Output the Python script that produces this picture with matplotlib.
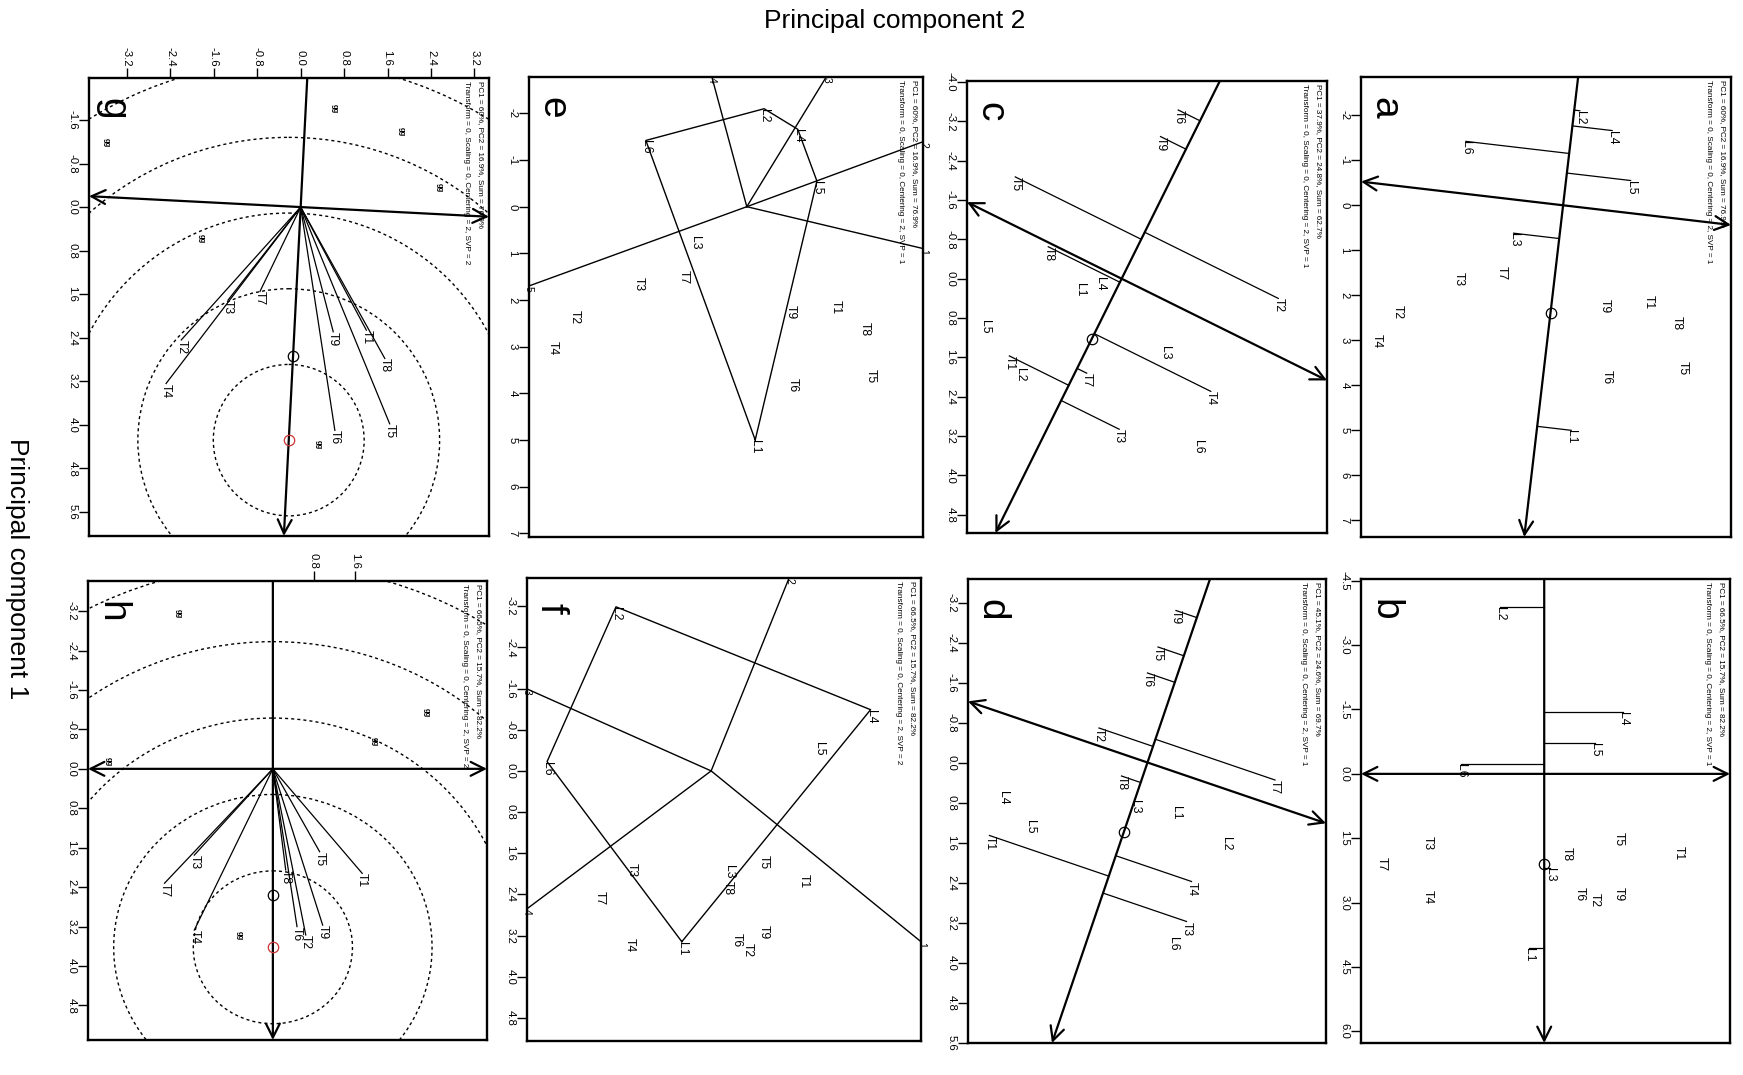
import numpy as np
import matplotlib
matplotlib.use("Agg")
import matplotlib.pyplot as plt
from matplotlib.patches import FancyArrowPatch, Circle, ArrowStyle

plt.rcParams['font.family'] = ['Liberation Sans', 'DejaVu Sans']

# ---------------- data ----------------
GEN = ["L1", "L2", "L3", "L4", "L5", "L6"]
ENV = ["T1", "T2", "T3", "T4", "T5", "T6", "T7", "T8", "T9"]

# panels a & e (PC1 = 60%, PC2 = 16.9%, SVP = 1)  -> values given as (PC2, PC1)
AE_GEN_PC2 = [0.18, 0.37, -1.10, 1.09, 1.50, -2.16]
AE_GEN_PC1 = [5.00, -2.10, 0.62, -1.66, -0.55, -1.42]
AE_ENV_PC2 = [1.90, -3.68, -2.31, -4.15, 2.65, 0.98, -1.36, 2.52, 0.93]
AE_ENV_PC1 = [2.16, 2.37, 1.65, 3.02, 3.62, 3.82, 1.51, 2.62, 2.25]
AE_AEC = [-0.28, 2.39]
E_HULL = ["L1", "L6", "L2", "L4", "L5"]
E_SECTOR = ["5", "4", "3", "2", "1"]

# panel b (PC1 = 66.5%, PC2 = 15.7%, SVP = 1)
B_GEN_PC2 = [-0.35, -1.04, 0.14, 1.84, 1.19, -1.95]
B_GEN_PC1 = [4.05, -3.88, 2.20, -1.43, -0.73, -0.23]
B_ENV_PC2 = [3.14, 1.17, -2.72, -2.72, 1.74, 0.84, -3.79, 0.53, 1.74]
B_ENV_PC1 = [1.85, 2.94, 1.62, 2.86, 1.53, 2.79, 2.09, 1.87, 2.79]
B_AEC = [0.0, 2.09]

# panel c (PC1 = 37.9%, PC2 = 24.8%)
C_ENV_PC2 = [-2.28, 3.18, -0.05, 1.81, -2.16, 1.15, -0.71, -1.49, 0.79]
C_ENV_PC1 = [1.57, 0.40, 3.06, 2.29, -2.07, -3.43, 1.92, -0.65, -2.89]
C_GEN_PC2 = [-0.85, -2.06, 0.88, -0.44, -2.77, 1.56]
C_GEN_PC1 = [0.22, 1.95, 1.51, 0.11, 0.97, 3.41]
C_AEC = [-0.61, 1.23]

# panel d (PC1 = 45.1%, PC2 = 24.6%)
D_ENV_PC2 = [-3.16, -0.97, 0.78, 0.88, 0.21, 0.00, 2.55, -0.52, 0.57]
D_ENV_PC1 = [1.46, -0.69, 3.18, 2.38, -2.31, -1.79, 0.35, 0.27, -3.04]
D_GEN_PC2 = [0.58, 1.58, -0.25, -2.89, -2.36, 0.51]
D_GEN_PC1 = [1.01, 1.62, 0.88, 0.71, 1.28, 3.62]
D_AEC = [-0.47, 1.38]

# panel f (PC1 = 66.5%, PC2 = 15.7%, SVP = 2)
F_GEN_PC2 = [-0.57, -1.85, 0.34, 3.10, 2.09, -3.19]
F_GEN_PC1 = [3.32, -3.19, 1.83, -1.19, -0.57, -0.18]
F_ENV_PC2 = [1.80, 0.71, -1.54, -1.58, 1.02, 0.50, -2.16, 0.32, 1.02]
F_ENV_PC1 = [2.15, 3.48, 1.93, 3.39, 1.77, 3.29, 2.48, 2.28, 3.13]
F_HULL = ["L1", "L6", "L2", "L4"]
F_SECTOR = ["4", "3", "2", "1"]

# panel g (PC1 = 60%, PC2 = 16.9%, SVP = 2)
G_ENV_PC2 = [1.21, -2.20, -1.34, -2.48, 1.64, 0.63, -0.75, 1.55, 0.60]
G_ENV_PC1 = [2.26, 2.44, 1.71, 3.24, 3.98, 4.10, 1.55, 2.78, 2.29]
G_GEN_PC2 = [0.61, 1.85, 2.55, -3.58, -1.83, 0.32]
G_GEN_PC1 = [-1.81, -1.38, -0.36, -1.18, 0.58, 4.36]
G_AEC = [-0.14, 2.73]
G_IDEAL = [-0.22, 4.28]
G_RADII = [1.39, 2.78, 4.17, 5.56, 6.95]

# panel h (PC1 = 66.5%, PC2 = 15.7%, SVP = 2)
H_ENV_PC2 = [1.74, 0.64, -1.53, -1.53, 0.91, 0.47, -2.11, 0.25, 0.97]
H_ENV_PC1 = [2.12, 3.37, 1.75, 3.27, 1.68, 3.20, 2.32, 2.05, 3.17]
H_GEN_PC2 = [-1.85, 2.99, 1.98, -3.21, -0.65]
H_GEN_PC1 = [-3.14, -1.14, -0.55, -0.14, 3.39]
H_AEC = [0.0, 2.56]
H_IDEAL = [0.0, 3.62]
H_RADII = [1.55, 3.10, 4.65, 6.20, 7.75]

HEAD1 = {
    "a": "PC1 = 60%, PC2 = 16.9%, Sum = 76.9%",
    "b": "PC1 = 66.5%, PC2 = 15.7%, Sum = 82.2%",
    "c": "PC1 = 37.9%, PC2 = 24.8%, Sum = 62.7%",
    "d": "PC1 = 45.1%, PC2 = 24.6%, Sum = 69.7%",
    "e": "PC1 = 60%, PC2 = 16.9%, Sum = 76.9%",
    "f": "PC1 = 66.5%, PC2 = 15.7%, Sum = 82.2%",
    "g": "PC1 = 60%, PC2 = 16.9%, Sum = 76.9%",
    "h": "PC1 = 66.5%, PC2 = 15.7%, Sum = 82.2%",
}
SVP = {"a": 1, "b": 1, "c": 1, "d": 1, "e": 1, "f": 2, "g": 2, "h": 2}

A_TICKS = [-2, -1, 0, 1, 2, 3, 4, 5, 6, 7]
B_TICKS = [-4.5, -3.0, -1.5, 0.0, 1.5, 3.0, 4.5, 6.0]
C_TICKS = [-4.0, -3.2, -2.4, -1.6, -0.8, 0.0, 0.8, 1.6, 2.4, 3.2, 4.0, 4.8]
D_TICKS = [-3.2, -2.4, -1.6, -0.8, 0.0, 0.8, 1.6, 2.4, 3.2, 4.0, 4.8, 5.6]
F_TICKS = [-3.2, -2.4, -1.6, -0.8, 0.0, 0.8, 1.6, 2.4, 3.2, 4.0, 4.8]
G_TICKS = [-1.6, -0.8, 0.0, 0.8, 1.6, 2.4, 3.2, 4.0, 4.8, 5.6]
G_XTICKS = [-3.2, -2.4, -1.6, -0.8, 0.0, 0.8, 1.6, 2.4, 3.2]
H_TICKS = [-3.2, -2.4, -1.6, -0.8, 0.0, 0.8, 1.6, 2.4, 3.2, 4.0, 4.8]
H_XTICKS = [0.8, 1.6]

# ---------------- layout ----------------
W, H = 1743, 1075
fig = plt.figure(figsize=(W / 100, H / 100), dpi=100)
fig.patch.set_facecolor("white")

LBL = 8.7
TICK = 8.2
HEAD = 5.9


def make_axes(box, xlim, ylim, yticks, ydec, letter, xticks=None):
    x0, y0, x1, y1 = box
    ax = fig.add_axes([x0 / W, 1 - y1 / H, (x1 - x0) / W, (y1 - y0) / H])
    ax.set_xlim(*xlim)
    ax.set_ylim(ylim[1], ylim[0])
    for s in ax.spines.values():
        s.set_linewidth(1.7)
    ax.set_yticks(yticks)
    if ydec == 0:
        labs = ["%d" % v for v in yticks]
    else:
        labs = ["%.1f" % v for v in yticks]
    ax.set_yticklabels(labs, rotation=-90, va="center", fontsize=TICK)
    ax.tick_params(axis="y", direction="out", length=7, width=1.0, pad=1.5)
    if xticks is None:
        ax.set_xticks([])
    else:
        ax.xaxis.tick_top()
        ax.set_xticks(xticks)
        ax.set_xticklabels(["%.1f" % v for v in xticks], rotation=-90,
                           ha="center", va="bottom", fontsize=TICK)
        ax.tick_params(axis="x", direction="out", length=7, width=1.0, pad=1.5)
    ax.annotate(HEAD1[letter], xy=(1, 1), xycoords="axes fraction",
                xytext=(-6, -2.5), textcoords="offset points", rotation=-90,
                rotation_mode="anchor", ha="left", va="center", fontsize=HEAD)
    ax.annotate("Transform = 0, Scaling = 0, Centering = 2, SVP = %d" % SVP[letter],
                xy=(1, 1), xycoords="axes fraction",
                xytext=(-16.5, -2.5), textcoords="offset points", rotation=-90,
                rotation_mode="anchor", ha="left", va="center", fontsize=HEAD)
    ax.annotate(letter, xy=(0, 1), xycoords="axes fraction", xytext=(17, -22),
                textcoords="offset points", rotation=-90, ha="center",
                va="center", fontsize=28)
    return ax


def span(ax, u):
    xl = sorted(ax.get_xlim())
    yl = sorted(ax.get_ylim())
    lo, hi = -np.inf, np.inf
    for comp, (a, b) in zip(u, (xl, yl)):
        if abs(comp) > 1e-12:
            t1, t2 = a / comp, b / comp
            lo = max(lo, min(t1, t2))
            hi = min(hi, max(t1, t2))
    return lo, hi


def arrow(ax, p0, p1, style):
    st = ArrowStyle(style, head_length=10, head_width=5)
    a = FancyArrowPatch(tuple(p0), tuple(p1), arrowstyle=st, mutation_scale=1,
                        lw=1.6, color="k", shrinkA=0, shrinkB=0)
    ax.add_patch(a)


def axes_lines(ax, aec):
    u = np.array(aec, float)
    u = u / np.hypot(*u)
    lo, hi = span(ax, u)
    arrow(ax, lo * u, hi * u, "->")
    v = np.array([u[1], -u[0]])
    lo2, hi2 = span(ax, v)
    arrow(ax, lo2 * v, hi2 * v, "<->")
    ax.plot([aec[0]], [aec[1]], "o", ms=7.5, mfc="none", mec="k", mew=0.9)
    return u


def anchored(ax, x, y, s, fs=LBL):
    ax.text(x, y, s, rotation=-90, rotation_mode="anchor", ha="left",
            va="center", fontsize=fs)


def centered(ax, x, y, s, fs=LBL, **kw):
    ax.text(x, y, s, rotation=-90, ha="center", va="center", fontsize=fs, **kw)


def mean_stability(ax, px, py, plab, fx, fy, flab, aec):
    u = axes_lines(ax, aec)
    for x, y, s in zip(px, py, plab):
        p = np.array([x, y])
        f = (p @ u) * u
        ax.plot([p[0], f[0]], [p[1], f[1]], "k-", lw=0.9)
        anchored(ax, x, y, s)
    for x, y, s in zip(fx, fy, flab):
        centered(ax, x, y, s)


def which_won_where(ax, gx, gy, hull, sectors, ex, ey):
    pos = {g: np.array([x, y]) for g, x, y in zip(GEN, gx, gy)}
    pts = [pos[h] for h in hull]
    xs = [p[0] for p in pts] + [pts[0][0]]
    ys = [p[1] for p in pts] + [pts[0][1]]
    ax.plot(xs, ys, "k-", lw=1.0)
    n = len(pts)
    for k in range(n):
        P, Q = pts[k], pts[(k + 1) % n]
        d = Q - P
        foot = P - (P @ d) / (d @ d) * d
        u = foot / np.hypot(*foot)
        lo, hi = span(ax, u)
        end = hi * u
        ax.plot([0, end[0]], [0, end[1]], "k-", lw=1.0)
        anchored(ax, end[0], end[1], sectors[k], fs=7.5)
    for g in GEN:
        anchored(ax, pos[g][0], pos[g][1], g)
    for x, y, s in zip(ex, ey, ENV):
        centered(ax, x, y, s)


def ranking(ax, ex, ey, gx, gy, aec, ideal, radii):
    axes_lines(ax, aec)
    for r in radii:
        c = Circle(tuple(ideal), r, fill=False, ls=(0, (2.2, 2.2)), lw=1.0,
                   color="k")
        ax.add_patch(c)
    for x, y, s in zip(ex, ey, ENV):
        ax.plot([0, x], [0, y], "k-", lw=0.9)
        anchored(ax, x, y, s)
    for x, y in zip(gx, gy):
        centered(ax, x, y, "gg", fs=5.5, fontweight="bold")
    ax.plot([ideal[0]], [ideal[1]], "o", ms=7.5, mfc="none", mec="#cc3333",
            mew=0.9)


# panel a
ax = make_axes((1361, 77, 1731, 537), (-4.49, 3.73), (-2.85, 7.37), A_TICKS, 0, "a")
mean_stability(ax, AE_GEN_PC2, AE_GEN_PC1, GEN, AE_ENV_PC2, AE_ENV_PC1, ENV, AE_AEC)

# panel b
ax = make_axes((1361, 579, 1730, 1043), (-4.28, 4.34), (-4.54, 6.27), B_TICKS, 1, "b")
mean_stability(ax, B_GEN_PC2, B_GEN_PC1, GEN, B_ENV_PC2, B_ENV_PC1, ENV, B_AEC)

# panel c
ax = make_axes((967, 81, 1327, 533), (-3.14, 4.17), (-4.02, 5.17), C_TICKS, 1, "c")
mean_stability(ax, C_ENV_PC2, C_ENV_PC1, ENV, C_GEN_PC2, C_GEN_PC1, GEN, C_AEC)

# panel d
ax = make_axes((968, 579, 1326, 1043), (-3.59, 3.57), (-3.67, 5.61), D_TICKS, 1, "d")
mean_stability(ax, D_ENV_PC2, D_ENV_PC1, ENV, D_GEN_PC2, D_GEN_PC1, GEN, D_AEC)

# panel e
ax = make_axes((529, 77, 923, 537), (-4.66, 3.77), (-2.78, 7.08), A_TICKS, 0, "e")
which_won_where(ax, AE_GEN_PC2, AE_GEN_PC1, E_HULL, E_SECTOR, AE_ENV_PC2, AE_ENV_PC1)

# panel f
ax = make_axes((527, 578, 921, 1041), (-3.58, 4.08), (-3.75, 5.25), F_TICKS, 1, "f")
which_won_where(ax, F_GEN_PC2, F_GEN_PC1, F_HULL, F_SECTOR, F_ENV_PC2, F_ENV_PC1)

# panel g
ax = make_axes((89, 78, 489, 536), (-3.90, 3.47), (-2.37, 6.04), G_TICKS, 1, "g",
               xticks=G_XTICKS)
ranking(ax, G_ENV_PC2, G_ENV_PC1, G_GEN_PC2, G_GEN_PC1, G_AEC, G_IDEAL, G_RADII)

# panel h
ax = make_axes((88, 581, 487, 1040), (-3.60, 4.17), (-3.81, 5.50), H_TICKS, 1, "h",
               xticks=H_XTICKS)
ranking(ax, H_ENV_PC2, H_ENV_PC1, H_GEN_PC2, H_GEN_PC1, H_AEC, H_IDEAL, H_RADII)

fig.text(895 / W, 1 - 21 / H, "Principal component 2", ha="center", va="center",
         fontsize=19)
fig.text(17 / W, 1 - 569 / H, "Principal component 1", rotation=-90, ha="center",
         va="center", fontsize=19)

fig.savefig("out.png", dpi=100, facecolor="white")
